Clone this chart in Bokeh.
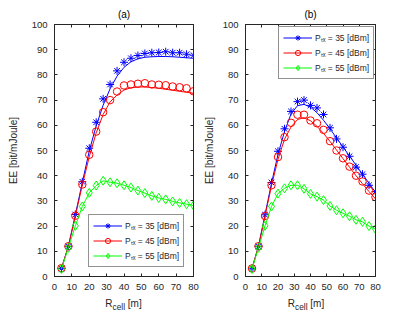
from bokeh.plotting import figure
from bokeh.layouts import row, column
from bokeh.models import (Range1d, LinearAxis, SingleIntervalTicker, Legend, LegendItem,
                          CustomJSTickFormatter, Div)
from bokeh.embed import file_html
from bokeh.resources import INLINE

# ---------------- data ----------------
r_cell = [4, 8, 12, 16, 20, 24, 28, 32, 36, 40, 44, 48, 52, 56, 60, 64, 68, 72, 76, 80]

# panel (a): simulation markers
a_sim_35 = [3.2, 12.0, 24.6, 37.6, 50.9, 61.2, 70.5, 76.2, 81.6, 85.0, 86.6, 87.7, 88.5, 88.8, 88.9, 89.2, 88.8, 88.8, 88.2, 87.8]
a_sim_45 = [3.3, 12.0, 24.1, 36.5, 48.3, 57.5, 65.2, 70.0, 73.4, 75.8, 76.2, 76.5, 76.7, 76.2, 76.1, 75.9, 75.4, 75.1, 74.7, 73.5]
a_sim_55 = [3.0, 11.4, 20.1, 27.8, 33.2, 36.1, 38.0, 37.4, 37.0, 36.2, 35.3, 34.1, 33.1, 32.0, 31.2, 30.6, 29.8, 29.2, 28.7, 28.2]
# panel (a): analytical curves
a_th_35 = [3.2, 12.0, 24.5, 37.3, 49.8, 59.8, 68.0, 74.5, 79.5, 83.0, 85.2, 86.4, 87.0, 87.2, 87.3, 87.3, 87.2, 87.0, 86.8, 86.6]
a_th_45 = [3.3, 12.0, 24.0, 36.3, 47.5, 57.0, 64.3, 69.3, 72.0, 74.0, 74.9, 75.2, 75.2, 75.0, 74.7, 74.3, 73.9, 73.5, 73.1, 72.7]
a_th_55 = a_sim_55

# panel (b): simulation markers
b_sim_35 = [3.2, 12.0, 24.5, 37.3, 49.7, 58.6, 65.5, 69.4, 70.0, 67.9, 66.9, 64.3, 59.0, 54.6, 51.3, 47.7, 43.4, 40.6, 36.2, 33.7]
b_sim_45 = [3.2, 12.0, 24.0, 36.2, 47.4, 55.3, 61.0, 64.2, 64.2, 61.9, 60.8, 58.2, 53.7, 50.0, 46.9, 43.6, 40.0, 37.7, 34.1, 31.5]
b_sim_55 = [3.0, 11.4, 20.1, 27.8, 32.9, 35.0, 36.2, 36.2, 34.8, 32.8, 31.7, 30.3, 28.0, 26.3, 25.1, 23.9, 22.5, 21.7, 20.0, 18.8]
# panel (b): analytical curves
b_th_35 = [3.2, 12.0, 24.5, 37.0, 48.5, 57.5, 64.5, 67.8, 68.3, 67.2, 65.0, 62.0, 58.6, 55.0, 51.4, 47.8, 44.2, 40.6, 37.0, 33.4]
b_th_45 = [3.2, 12.0, 24.0, 36.0, 46.5, 54.5, 59.3, 62.3, 63.0, 61.8, 59.6, 56.8, 53.6, 50.2, 46.8, 43.4, 40.0, 36.8, 33.7, 30.8]
b_th_55 = b_sim_55

legend_labels = ["P\u209c\u2093 = 35 [dBm]", "P\u209c\u2093 = 45 [dBm]", "P\u209c\u2093 = 55 [dBm]"]
panel_titles = ["(a)", "(b)"]
y_axis_label = "EE [bit/mJoule]"
x_axis_label_html = "R<sub>cell</sub> [m]"
x_ticks_interval = 10
y_ticks_interval = 10

FONT = "Liberation Sans"
AX_COL = "#262626"
TOP, BOTTOM = 24, 20
FIG_H = 296
LABEL_H = 16


def make_panel(title, sims, ths, width, border_left, border_right, legend_loc, ylab_standoff):
    p = figure(width=width, height=FIG_H, title=title,
               x_range=Range1d(0, 80), y_range=Range1d(0, 100),
               output_backend="svg", toolbar_location=None,
               min_border_left=border_left, min_border_right=border_right,
               min_border_top=TOP, min_border_bottom=BOTTOM)
    p.background_fill_color = "white"
    p.border_fill_color = "white"
    p.outline_line_color = AX_COL
    p.outline_line_width = 1
    p.xgrid.visible = False
    p.ygrid.visible = False

    p.title.align = "center"
    p.title.text_font = FONT
    p.title.text_font_size = "10px"
    p.title.text_font_style = "normal"
    p.title.text_color = "black"
    p.title.standoff = 2

    p.xaxis.ticker = SingleIntervalTicker(interval=x_ticks_interval)
    p.yaxis.ticker = SingleIntervalTicker(interval=y_ticks_interval)
    for ax in (p.xaxis[0], p.yaxis[0]):
        ax.major_tick_in = 3
        ax.major_tick_out = 0
        ax.minor_tick_line_color = None
        ax.axis_line_color = AX_COL
        ax.major_tick_line_color = AX_COL
        ax.major_label_text_font = FONT
        ax.major_label_text_font_size = "9.5px"
        ax.major_label_text_color = AX_COL
        ax.major_label_standoff = 3
        ax.axis_label_text_font = FONT
        ax.axis_label_text_font_size = "10px"
        ax.axis_label_text_font_style = "normal"
        ax.axis_label_text_color = AX_COL
    p.yaxis.axis_label = y_axis_label
    p.yaxis.axis_label_standoff = ylab_standoff

    for side, tick in (("above", x_ticks_interval), ("right", y_ticks_interval)):
        ax = LinearAxis(ticker=SingleIntervalTicker(interval=tick),
                        formatter=CustomJSTickFormatter(code="return ''"),
                        major_label_standoff=0, major_label_text_font_size="0px",
                        major_tick_in=3, major_tick_out=0,
                        minor_tick_line_color=None,
                        axis_line_color=AX_COL, major_tick_line_color=AX_COL)
        p.add_layout(ax, side)

    colors = ["#0000ff", "#ff0000", "#00ff00"]
    markers = ["asterisk", "circle", "diamond"]
    sizes = [8, 7.5, 9]
    items = []
    for sim, th, c, m, s, lab in zip(sims, ths, colors, markers, sizes, legend_labels):
        l = p.line(r_cell, th, line_color=c, line_width=1)
        sc = p.scatter(r_cell, sim, marker=m, size=s, line_color=c,
                       fill_color=None, line_width=1)
        items.append(LegendItem(label=lab, renderers=[l, sc]))
    leg = Legend(items=items, location=legend_loc,
                 label_text_font=FONT, label_text_font_size="8.5px",
                 label_text_color=AX_COL,
                 border_line_color=AX_COL, border_line_width=0.6,
                 background_fill_color="white", background_fill_alpha=1,
                 padding=4, spacing=2, margin=0,
                 glyph_width=29, glyph_height=13, label_height=13,
                 label_standoff=3)
    p.add_layout(leg, "center")
    return p


def make_xlabel(width, border_left, border_right):
    frame_w = width - border_left - border_right
    return Div(text=x_axis_label_html, width=frame_w, height=LABEL_H,
               margin=(0, border_right, 0, border_left),
               styles={"text-align": "center", "font-family": FONT,
                       "font-size": "10px", "color": AX_COL,
                       "line-height": "12px", "padding-top": "2px",
                       "width": f"{frame_w}px"})


pa = make_panel(panel_titles[0], [a_sim_35, a_sim_45, a_sim_55],
                [a_th_35, a_th_45, a_th_55], 200, 54, 7, (34, 9), 10)
pb = make_panel(panel_titles[1], [b_sim_35, b_sim_45, b_sim_55],
                [b_th_35, b_th_45, b_th_55], 215, 37, 40, (33, 197), 5)

la = make_xlabel(200, 54, 7)
lb = make_xlabel(215, 37, 40)

layout = column(row(pa, pb), row(la, lb))
open("out.html", "w").write(file_html(layout, INLINE))
